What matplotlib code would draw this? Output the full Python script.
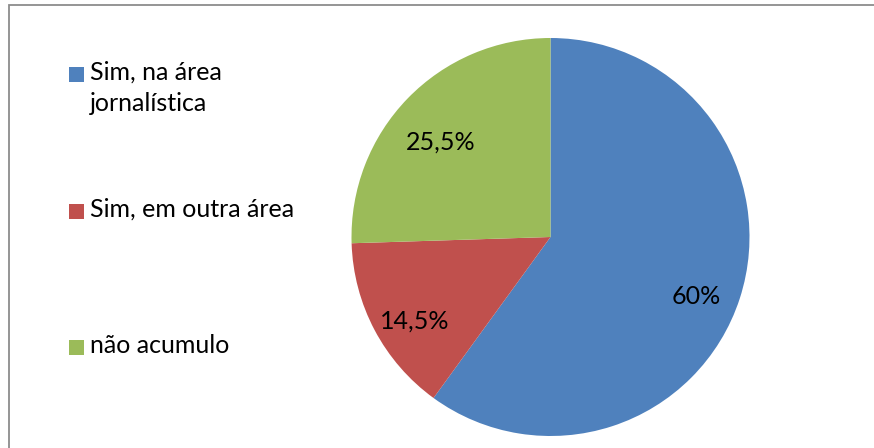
import matplotlib
matplotlib.use("Agg")
import matplotlib.pyplot as plt
from matplotlib.patches import Rectangle
import numpy as np

# Share of respondents by second-job situation
categories = ["Sim, na área\njornalística", "Sim, em outra área", "não acumulo"]
values = [60.0, 14.5, 25.5]
value_labels = ["60%", "14,5%", "25,5%"]
colors = ["#4F81BD", "#C0504D", "#9BBB59"]

W, H = 874, 448
plt.rcParams["font.family"] = ["Lato", "DejaVu Sans"]
fig = plt.figure(figsize=(W / 100, H / 100), dpi=100)

# chart frame (left and top edges visible)
fig.patches.append(Rectangle((8.5 / W, -0.1), 1.2, (H - 5.5) / H + 0.1,
                             transform=fig.transFigure, fill=False,
                             edgecolor="#8C8C8C", linewidth=1.3))

# pie area: center (550.5, 237) px, radius 199 px
cx, cy, r = 550.5, 237.0, 199.0
ax = fig.add_axes([(cx - r) / W, (H - cy - r) / H, 2 * r / W, 2 * r / H])
wedges, _ = ax.pie(values, colors=colors, startangle=90, counterclock=False,
                   radius=1.0, wedgeprops=dict(linewidth=0))
ax.set_xlim(-1, 1)
ax.set_ylim(-1, 1)
ax.set_aspect("equal")
ax.axis("off")

for w, txt in zip(wedges, value_labels):
    mid = np.deg2rad((w.theta1 + w.theta2) / 2)
    ax.text(0.77 * np.cos(mid), 0.77 * np.sin(mid) - 0.06, txt,
            ha="center", va="center", fontsize=18, color="black")

# legend entries
sq = 15
legend_tops = [67, 204, 340]
for top, lab, col in zip(legend_tops, categories, colors):
    fig.patches.append(Rectangle((69 / W, (H - top - sq) / H), sq / W, sq / H,
                                 transform=fig.transFigure, facecolor=col,
                                 edgecolor="none"))
    fig.text(90 / W, (H - top + 6) / H, lab, ha="left", va="top",
             fontsize=18, color="black", linespacing=1.4)

fig.savefig("out.png", dpi=100)
